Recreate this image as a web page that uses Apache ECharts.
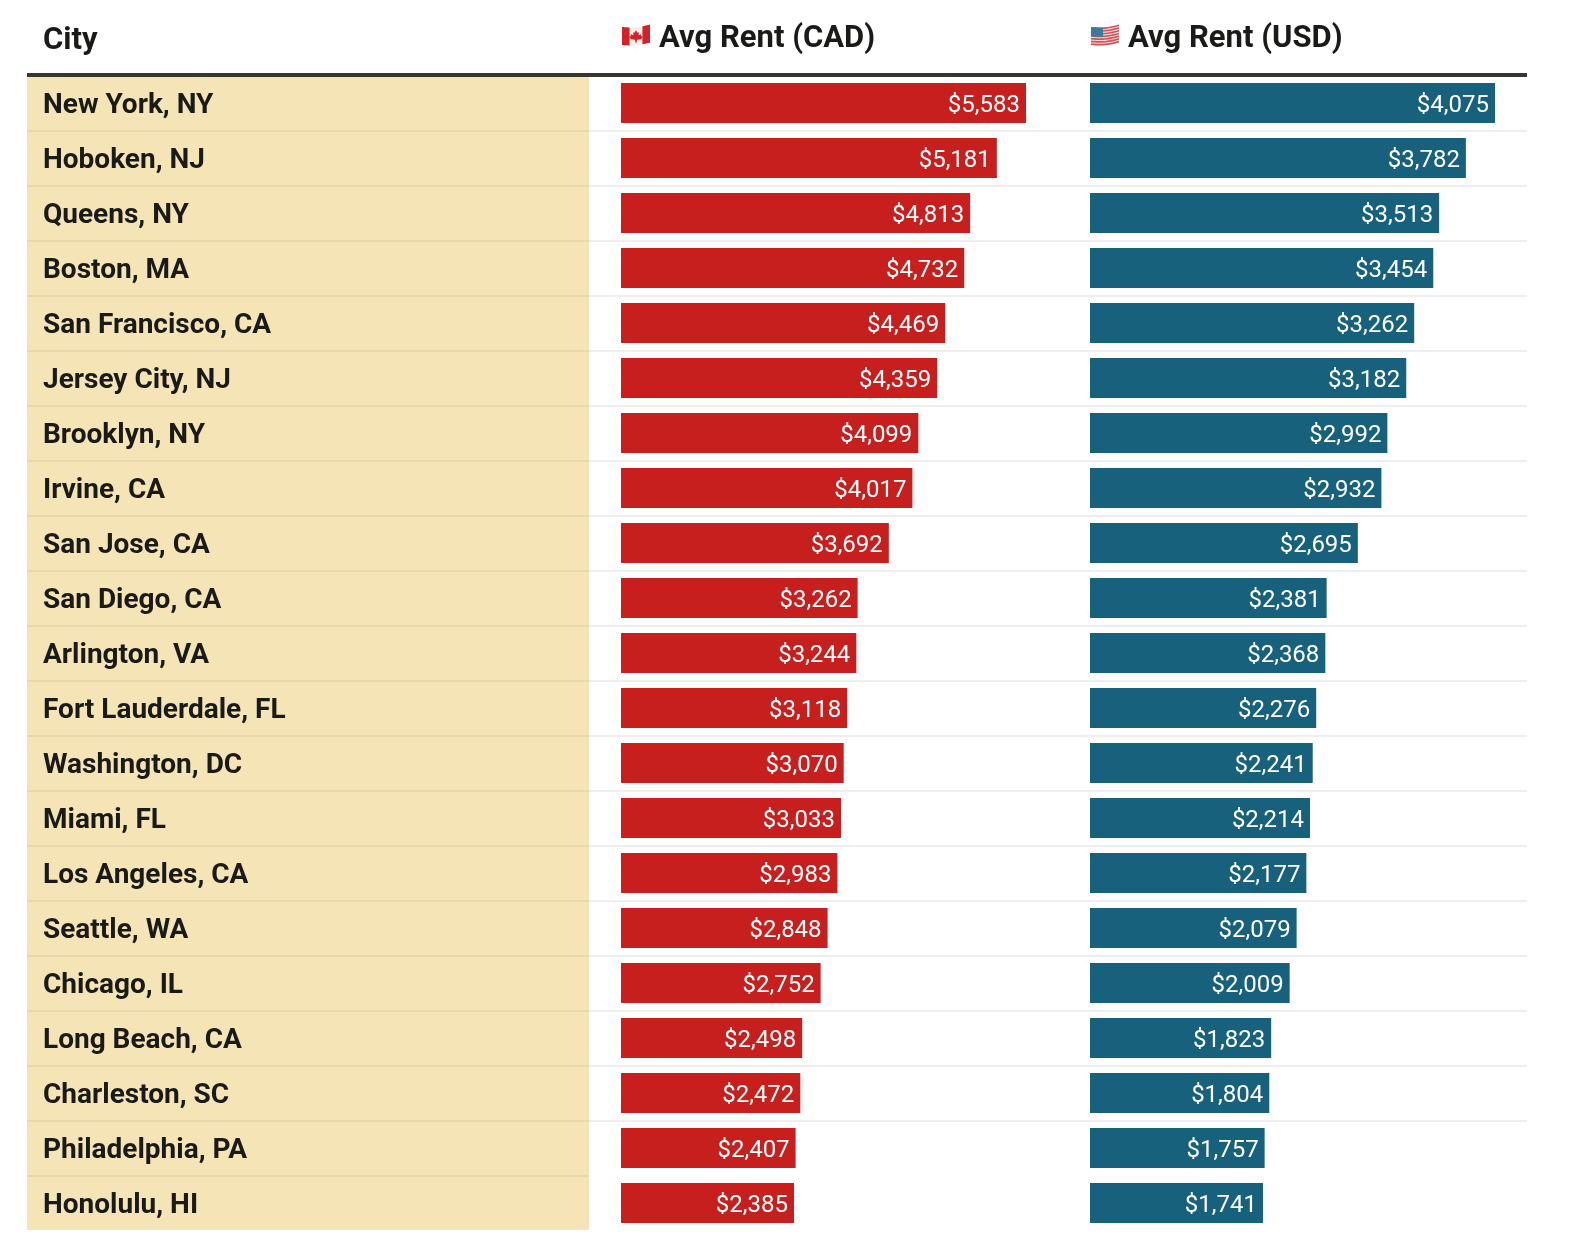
<!DOCTYPE html>
<html>
<head>
<meta charset="utf-8">
<style>html,body{margin:0;padding:0;background:#fff}#chart{width:1570px;height:1234px}</style>
<script src="https://cdn.jsdelivr.net/npm/echarts@6/dist/echarts.min.js"></script>
</head>
<body>
<div id="chart"></div>
<script>
const cities = ['New York, NY','Hoboken, NJ','Queens, NY','Boston, MA','San Francisco, CA','Jersey City, NJ','Brooklyn, NY','Irvine, CA','San Jose, CA','San Diego, CA','Arlington, VA','Fort Lauderdale, FL','Washington, DC','Miami, FL','Los Angeles, CA','Seattle, WA','Chicago, IL','Long Beach, CA','Charleston, SC','Philadelphia, PA','Honolulu, HI'];
const rentCad = [5583,5181,4813,4732,4469,4359,4099,4017,3692,3262,3244,3118,3070,3033,2983,2848,2752,2498,2472,2407,2385];
const rentUsd = [4075,3782,3513,3454,3262,3182,2992,2932,2695,2381,2368,2276,2241,2214,2177,2079,2009,1823,1804,1757,1741];
const headers = ['City','Avg Rent (CAD)','Avg Rent (USD)'];

const FONT = 'Roboto';
const INK = '#1a1a18';
const RED = '#c61f1d';
const TEAL = '#17617c';
const money = v => '$' + v.toLocaleString('en-US');

const rowAxis = (gridIndex, extra) => Object.assign({
  type: 'category', gridIndex, inverse: true, data: cities,
  axisLine: {show: false}, axisTick: {show: false}, axisLabel: {show: false}, splitLine: {show: false}
}, extra);
const hiddenValueAxis = (gridIndex, max) => ({
  type: 'value', gridIndex, min: 0, max, show: false, splitLine: {show: false}
});

function barSeries(index, data, color) {
  return {
    type: 'bar', xAxisIndex: index, yAxisIndex: index, data, barWidth: 40, silent: true,
    itemStyle: {color},
    label: {
      show: true, position: 'insideRight', distance: 6, offset: [0, 3], color: '#fff',
      fontFamily: FONT, fontSize: 24, fontWeight: 400,
      formatter: p => money(p.value)
    }
  };
}

// A patch of a waving flag: u and v run 0..1 across the cloth, the edges follow a shallow curve.
function cloth(x, y, w, h, u0, u1, v0, v1, fill) {
  const lift = u => 2 - 2.5 * u + 1.5 * Math.sin(Math.PI * u);
  const pts = [];
  const steps = 10;
  for (let i = 0; i <= steps; i++) {
    const u = u0 + (u1 - u0) * i / steps;
    pts.push([x + w * u, y + lift(u) + h * v0]);
  }
  for (let i = steps; i >= 0; i--) {
    const u = u0 + (u1 - u0) * i / steps;
    pts.push([x + w * u, y + lift(u) + h * v1]);
  }
  return {type: 'polygon', shape: {points: pts}, style: {fill}};
}
function canadaFlag(x, y) {
  const red = '#d2232a';
  const leaf = [[14,4],[15.5,6.5],[17,6],[16.5,9],[19,8],[19.5,10],[21,10.5],[19,13],[15,13.5],[14.5,16.5],[13.5,16.5],[13,13.5],[9,13],[7,10.5],[8.5,10],[9,8],[11.5,9],[11,6],[12.5,6.5]];
  return {type: 'group', z: 100, children: [
    cloth(x, y, 28, 18, 0, 1, 0, 1, '#f5efe6'),
    cloth(x, y, 28, 18, 0, 0.27, 0, 1, red),
    cloth(x, y, 28, 18, 0.73, 1, 0, 1, red),
    {type: 'polygon', shape: {points: leaf.map(p => [x + p[0], y + p[1] + 1.2])}, style: {fill: red}}
  ]};
}
function usaFlag(x, y) {
  const parts = [cloth(x, y, 28, 18, 0, 1, 0, 1, '#f0dcd6')];
  for (let i = 0; i < 7; i++) {
    parts.push(cloth(x, y, 28, 18, 0, 1, i / 6.6, (i + 0.6) / 6.6, '#d5525a'));
  }
  parts.push(cloth(x, y, 28, 18, 0, 0.43, 0, 0.52, '#3f7a9c'));
  return {type: 'group', z: 100, children: parts};
}

const headerStyle = {fontFamily: FONT, fontSize: 31, fontWeight: 700, color: INK};

const chart = echarts.init(document.getElementById('chart'), null, {renderer: 'canvas'});
chart.setOption({
  animation: false,
  backgroundColor: '#fff',
  title: [
    {text: headers[0], left: 38, top: 21, textStyle: headerStyle},
    {text: headers[1], left: 654, top: 19, textStyle: headerStyle},
    {text: headers[2], left: 1123, top: 19, textStyle: headerStyle}
  ],
  grid: [
    {left: 27, width: 562, top: 76, height: 1155, show: false},
    {left: 589, width: 938, top: 76, height: 1100, show: false},
    {left: 621, width: 405, top: 75.5, height: 1155, show: false},
    {left: 1090, width: 405, top: 75.5, height: 1155, show: false},
    // tan backdrop of the city column
    {left: 27, width: 562, top: 76, height: 1154, show: true, backgroundColor: '#f5e4b6', borderWidth: 0},
    // city names sit slightly below the row centre
    {left: 27, width: 562, top: 78, height: 1155, show: false}
  ],
  xAxis: [hiddenValueAxis(0, 1), hiddenValueAxis(1, 1), hiddenValueAxis(2, 5583), hiddenValueAxis(3, 4075), hiddenValueAxis(4, 1), hiddenValueAxis(5, 1)],
  yAxis: [
    rowAxis(0, {
      splitLine: {show: true, showMinLine: false, showMaxLine: false, lineStyle: {color: '#e6d7ae', width: 2}}
    }),
    rowAxis(1, {
      data: cities.slice(0, 20),
      splitLine: {show: true, showMinLine: false, showMaxLine: false, lineStyle: {color: '#eeeeee', width: 2}}
    }),
    rowAxis(2),
    rowAxis(3),
    rowAxis(4),
    rowAxis(5, {
      axisLabel: {show: true, inside: true, margin: 16, align: 'left', fontFamily: FONT, fontSize: 28, fontWeight: 700, color: INK}
    })
  ],
  series: [barSeries(2, rentCad, RED), barSeries(3, rentUsd, TEAL)],
  graphic: [
    {type: 'rect', z: 100, shape: {x: 27, y: 73, width: 1500, height: 4}, style: {fill: '#363530'}},
    canadaFlag(622, 25),
    usaFlag(1091, 25)
  ]
});
</script>
</body>
</html>
